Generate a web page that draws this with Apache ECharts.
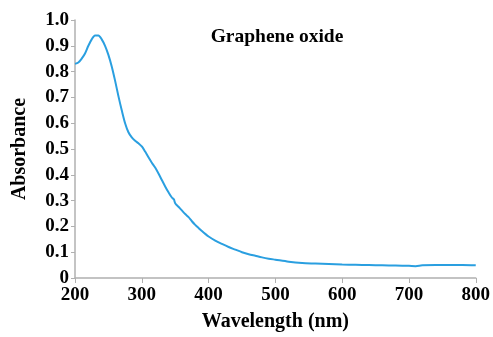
<!DOCTYPE html>
<html><head><meta charset="utf-8">
<script src="https://cdn.jsdelivr.net/npm/echarts@6/dist/echarts.min.js"></script>
<style>html,body{margin:0;padding:0;background:#fff}#c{width:493px;height:337px}</style>
</head><body><div id="c"></div>
<script>
const wavelength = [200,205,210,215,220,225,230,235,240,245,250,255,260,265,270,275,280,285,290,295,300,305,310,315,320,325,330,335,340,345,348,350,355,360,365,370,375,380,385,390,395,400,410,420,430,440,450,460,470,480,490,500,520,540,560,580,600,620,640,660,680,700,710,720,740,760,780,800];
const absorbance = [0.83,0.835,0.85,0.87,0.9,0.925,0.94,0.94,0.925,0.9,0.865,0.82,0.765,0.705,0.65,0.6,0.565,0.545,0.532,0.522,0.51,0.49,0.468,0.447,0.428,0.405,0.38,0.355,0.332,0.312,0.305,0.29,0.276,0.262,0.248,0.236,0.22,0.206,0.194,0.182,0.171,0.161,0.145,0.132,0.12,0.11,0.1,0.092,0.086,0.08,0.075,0.071,0.063,0.058,0.056,0.054,0.052,0.051,0.05,0.049,0.048,0.047,0.046,0.049,0.05,0.05,0.05,0.049];
const titleText = "Graphene oxide";
const xName = "Wavelength (nm)";
const yName = "Absorbance";

const font = "'Liberation Serif','Times New Roman',serif";
const chart = echarts.init(document.getElementById('c'), null, {renderer:'canvas'});
chart.setOption({
  animation:false,
  title:{text:titleText,left:272,top:22,textAlign:'center',textStyle:{fontFamily:font,fontWeight:'bold',fontSize:19.5,color:'#000'}},
  grid:{left:75,right:13,top:20,bottom:55},
  xAxis:{type:'value',min:200,max:800,interval:100,name:xName,nameLocation:'middle',nameGap:34,
    nameTextStyle:{fontFamily:font,fontWeight:'bold',fontSize:20,color:'#000'},
    axisLine:{lineStyle:{color:'#b0b0b0',width:1.5}},axisTick:{show:true,length:5,lineStyle:{color:'#b0b0b0'}},
    splitLine:{show:false},
    axisLabel:{fontFamily:font,fontWeight:'bold',fontSize:19,color:'#000',margin:8}},
  yAxis:{type:'value',min:0,max:1,interval:0.1,name:yName,nameLocation:'middle',nameGap:45,
    nameTextStyle:{fontFamily:font,fontWeight:'bold',fontSize:20,color:'#000'},
    axisLine:{show:true,lineStyle:{color:'#b0b0b0',width:1.5}},axisTick:{show:true,length:4,lineStyle:{color:'#b0b0b0'}},
    splitLine:{show:false},
    axisLabel:{fontFamily:font,fontWeight:'bold',fontSize:19,color:'#000',margin:6,
      formatter:v=>v===0?'0':v.toFixed(1)}},
  series:[{type:'line',data:wavelength.map((w,i)=>[w,absorbance[i]]),smooth:0.3,showSymbol:false,
    lineStyle:{color:'#2a9fe0',width:2}}]
});
</script></body></html>
